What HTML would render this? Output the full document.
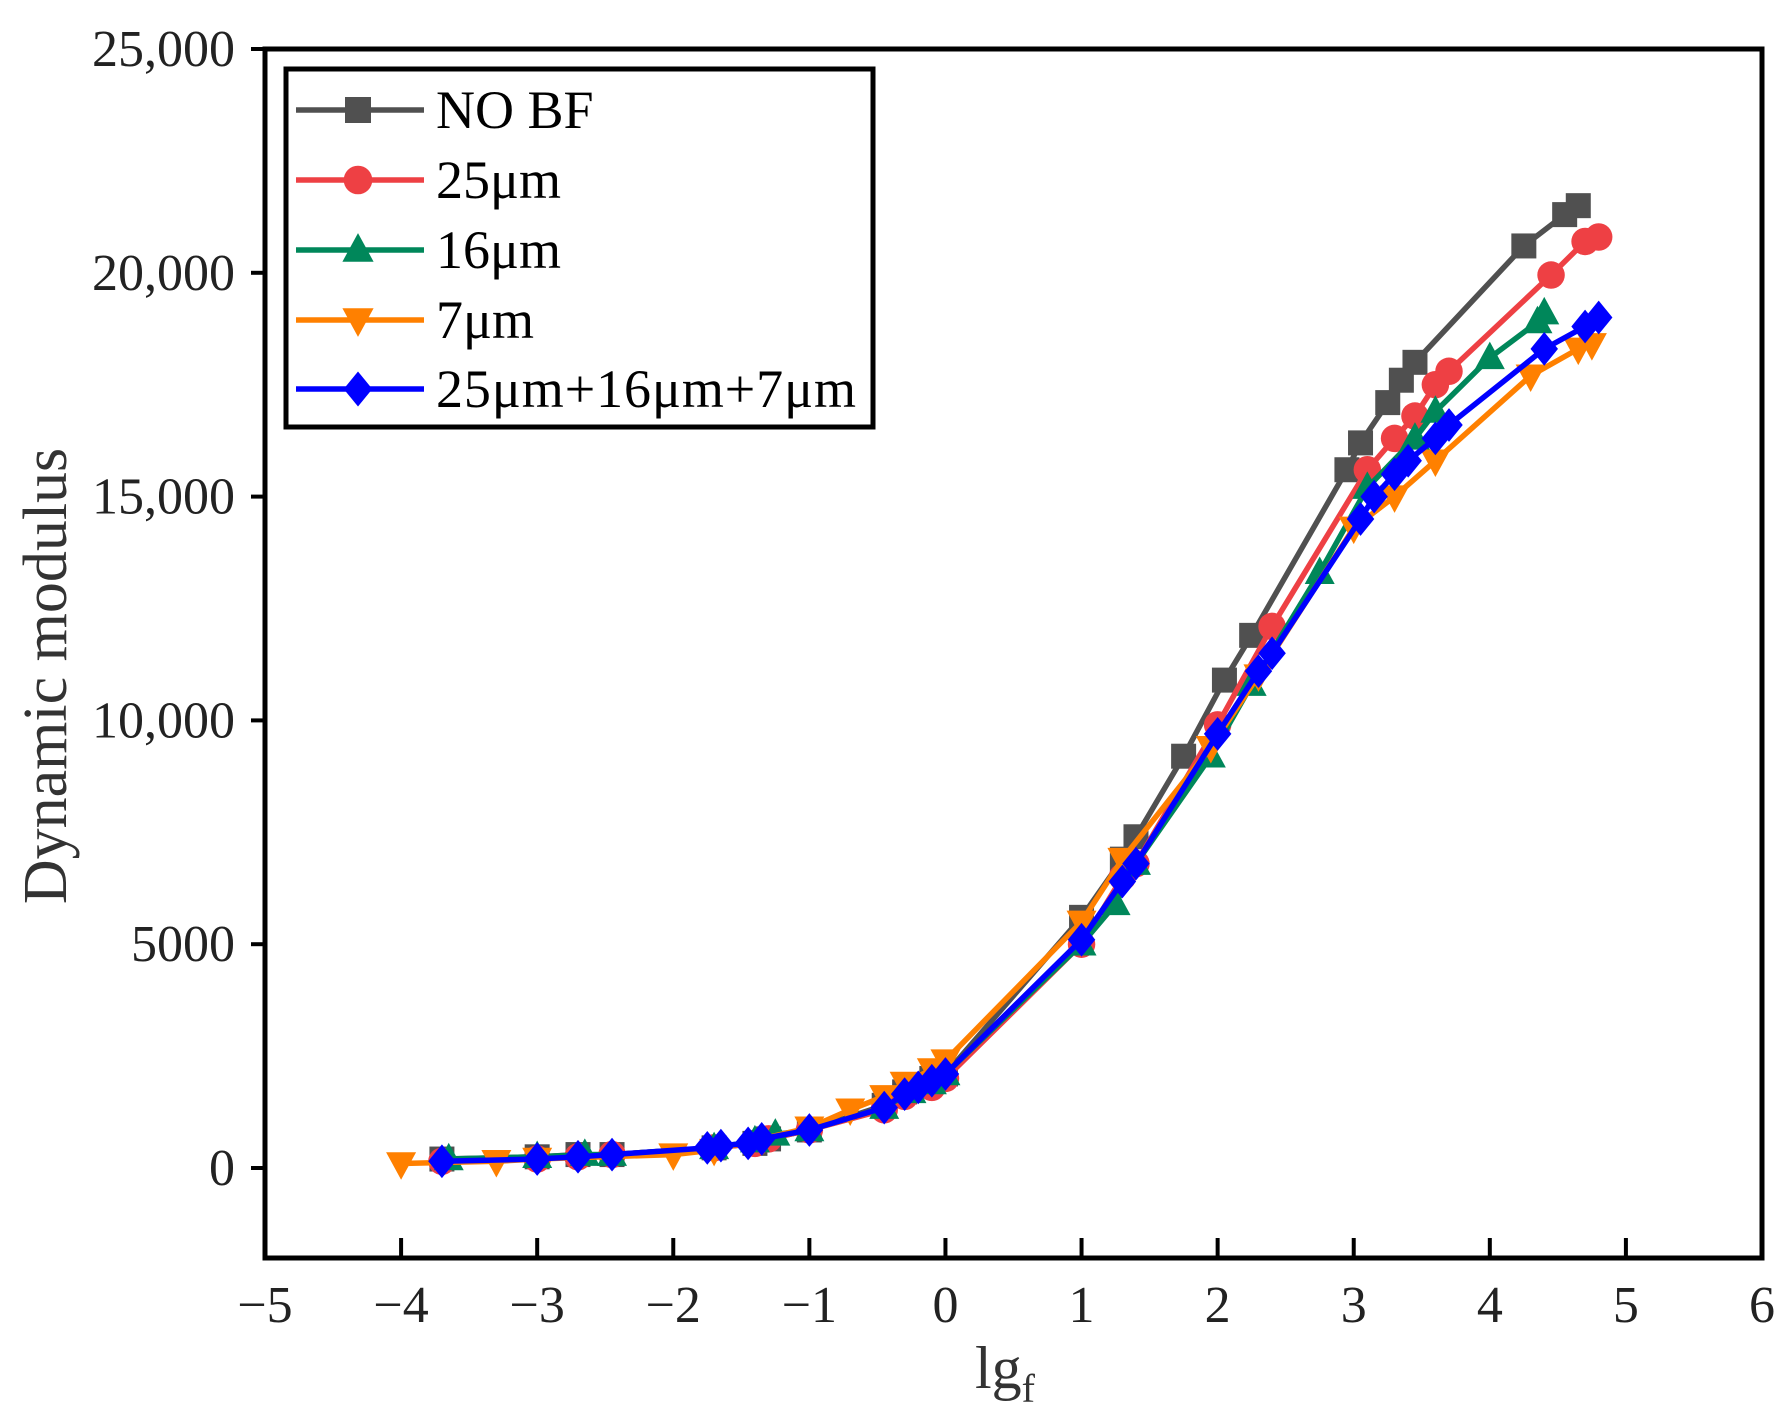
<!DOCTYPE html>
<html><head><meta charset="utf-8"><style>
html,body{margin:0;padding:0;background:#fff;}
svg{display:block;font-family:"Liberation Serif",serif;}
</style></head><body>
<svg id="chart" width="1787" height="1424" viewBox="0 0 1787 1424" xmlns="http://www.w3.org/2000/svg">
<g id="series"></g>
<rect x="265" y="49" width="1497" height="1209" fill="none" stroke="#000" stroke-width="5"/>
<g id="axes"></g>
<text x="66" y="676" font-size="62" fill="#333" text-anchor="middle" transform="rotate(-90 66 676)">Dynamic modulus</text>
<text x="1005" y="1388" font-size="60" fill="#333" text-anchor="middle">lg<tspan font-size="40" dy="14">f</tspan></text>
<g id="legend">
<rect x="286" y="69" width="587" height="358" fill="#fff" stroke="#000" stroke-width="5"/>
</g>
</svg>
<script>
const xTicks=[-5,-4,-3,-2,-1,0,1,2,3,4,5,6];
const xTickLabels=["\u22125","\u22124","\u22123","\u22122","\u22121","0","1","2","3","4","5","6"];
const yTicks=[0,5000,10000,15000,20000,25000];
const yTickLabels=["0","5000","10,000","15,000","20,000","25,000"];
const seriesNames=["NO BF","25\u03bcm","16\u03bcm","7\u03bcm","25\u03bcm+16\u03bcm+7\u03bcm"];
const noBfX=[-3.7,-3.0,-2.7,-2.45,-1.7,-1.4,-1.3,-1.0,-0.45,-0.3,-0.1,0,1,1.3,1.4,1.75,2.05,2.25,2.95,3.05,3.25,3.35,3.45,4.25,4.55,4.65];
const noBfY=[200,250,300,300,450,550,650,850,1400,1700,2000,2100,5600,6900,7400,9200,10900,11900,15600,16200,17100,17600,18000,20600,21300,21500];
const r25X=[-3.7,-3.0,-2.7,-2.45,-1.7,-1.4,-1.3,-1.0,-0.45,-0.3,-0.1,0,1,1.3,1.4,2.0,2.4,3.1,3.3,3.45,3.6,3.7,4.45,4.7,4.8];
const r25Y=[150,200,250,300,450,550,650,850,1300,1600,1800,2000,5000,6500,6800,9900,12100,15600,16300,16800,17500,17800,19950,20700,20800];
const g16X=[-3.65,-3.0,-2.65,-2.45,-1.7,-1.4,-1.25,-1.0,-0.45,-0.25,-0.1,0,1,1.25,1.4,1.95,2.25,2.75,3.1,3.45,3.6,4.0,4.35,4.4];
const g16Y=[200,250,300,300,450,600,750,850,1350,1700,1900,2100,5000,5900,6800,9200,10800,13300,15200,16300,16900,18100,18900,19100];
const o7X=[-4.0,-3.3,-3.0,-2.0,-1.7,-1.0,-0.7,-0.45,-0.3,-0.1,0,1,1.3,1.95,2.3,3.0,3.3,3.6,4.3,4.65,4.75];
const o7Y=[100,150,200,300,400,900,1300,1600,1900,2200,2400,5500,6900,9400,11000,14300,15000,15800,17700,18300,18400];
const bMixX=[-3.7,-3.0,-2.7,-2.45,-1.75,-1.65,-1.45,-1.35,-1.0,-0.45,-0.3,-0.2,-0.1,0,1,1.3,1.4,2.0,2.3,2.4,3.05,3.15,3.3,3.4,3.6,3.7,4.4,4.7,4.8];
const bMixY=[150,200,250,300,450,500,550,650,850,1350,1650,1800,1950,2100,5100,6400,6800,9700,11100,11500,14500,15000,15500,15800,16300,16600,18300,18800,19000];
const colors=["#505050","#ee4044","#00875a","#ff8000","#0000ff"];
const markers=["square","circle","triangle","tridown","diamond"];
const allX=[noBfX,r25X,g16X,o7X,bMixX];
const allY=[noBfY,r25Y,g16Y,o7Y,bMixY];

const NS="http://www.w3.org/2000/svg";
const L=265,R=1762,T=49,B=1258;
function sx(v){return L+(v+5)/11*(R-L);}
const y0=1168,yPer=(1168-49)/25000;
function sy(v){return y0-v*yPer;}
function mk(tag,attrs,parent){const e=document.createElementNS(NS,tag);for(const k in attrs)e.setAttribute(k,attrs[k]);parent.appendChild(e);return e;}
function marker(type,cx,cy,s,col,parent){
  let e;
  if(type==="square")e=mk("rect",{x:cx-s,y:cy-s,width:2*s,height:2*s,fill:col},parent);
  else if(type==="circle")e=mk("circle",{cx:cx,cy:cy,r:s*1.1,fill:col},parent);
  else if(type==="triangle")e=mk("polygon",{points:`${cx},${cy-s*1.3} ${cx+s*1.2},${cy+s*0.9} ${cx-s*1.2},${cy+s*0.9}`,fill:col},parent);
  else if(type==="tridown")e=mk("polygon",{points:`${cx},${cy+s*1.3} ${cx+s*1.2},${cy-s*0.9} ${cx-s*1.2},${cy-s*0.9}`,fill:col},parent);
  else e=mk("polygon",{points:`${cx},${cy-s*1.35} ${cx+s*1.1},${cy} ${cx},${cy+s*1.35} ${cx-s*1.1},${cy}`,fill:col},parent);
  return e;
}
const axes=document.getElementById("axes");
xTicks.forEach((t,i)=>{
  const x=sx(t);
  const tk=mk("line",{x1:x,y1:B,x2:x,y2:B-20,stroke:"#000","stroke-width":4},axes);
  
  
  const lb=mk("text",{x:x,y:B+64,"font-size":52,"text-anchor":"middle",fill:"#222"},axes);
  lb.textContent=xTickLabels[i];
  
  
});
yTicks.forEach((t,i)=>{
  const y=sy(t);
  const tk=mk("line",{x1:L,y1:y,x2:L-14,y2:y,stroke:"#000","stroke-width":4},axes);
  
  
  const lb=mk("text",{x:L-30,y:y+17,"font-size":52,"text-anchor":"end",fill:"#222"},axes);
  lb.textContent=yTickLabels[i];
  
  
});
const sg=document.getElementById("series");
for(let s=0;s<5;s++){
  const g=mk("g",{},sg);
  
  
  const pts=allX[s].map((x,i)=>sx(x)+","+sy(allY[s][i])).join(" ");
  const pl=mk("polyline",{points:pts,fill:"none",stroke:colors[s],"stroke-width":5.5},g);
  
  
  allX[s].forEach((x,i)=>{
    const m=marker(markers[s],sx(x),sy(allY[s][i]),12.5,colors[s],g);
    
    
  });
}
const lg=document.getElementById("legend");
const rowY=[110,180,250,320,389];
for(let s=0;s<5;s++){
  const ln=mk("line",{x1:296,y1:rowY[s],x2:424,y2:rowY[s],stroke:colors[s],"stroke-width":5.5},lg);
  
  
  const m=marker(markers[s],358,rowY[s],13,colors[s],lg);
  
  
  const t=mk("text",{x:436,y:rowY[s]+18,"font-size":54,fill:"#000",textLength:s===4?420:null},lg);
  if(s!==4)t.removeAttribute("textLength");
  t.textContent=seriesNames[s];
  
  
}
</script>
</body></html>
